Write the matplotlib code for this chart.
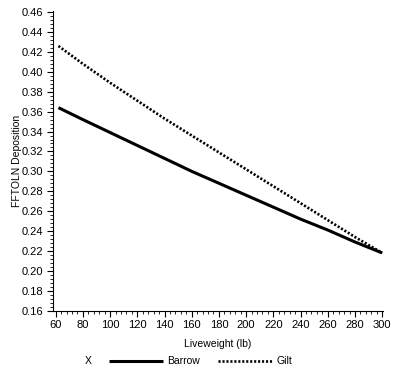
import matplotlib.pyplot as plt
from matplotlib.ticker import MultipleLocator

plt.rcParams['font.family'] = ['Liberation Sans', 'DejaVu Sans']

# Data
liveweight = [62, 80, 100, 120, 140, 160, 180, 200, 220, 240, 260, 280, 300]
barrow = [0.364, 0.352, 0.339, 0.326, 0.313, 0.300, 0.288,
          0.276, 0.264, 0.252, 0.241, 0.229, 0.218]
gilt = [0.426, 0.408, 0.389, 0.371, 0.353, 0.336, 0.319,
        0.302, 0.285, 0.268, 0.251, 0.234, 0.218]

fig = plt.figure(figsize=(3.97, 3.72), dpi=100)
ax = fig.add_axes([0.1335, 0.165, 0.8315, 0.805])

ax.plot(liveweight, barrow, color='black', lw=2.2, solid_capstyle='butt', label='Barrow')
ax.plot(liveweight, gilt, color='black', lw=1.9, linestyle=(0, (0.8, 0.7)),
        dash_capstyle='butt', label='Gilt')

ax.set_xlim(58, 300.7)
ax.set_ylim(0.16, 0.461)
ax.xaxis.set_major_locator(MultipleLocator(20))
ax.xaxis.set_minor_locator(MultipleLocator(4))
ax.yaxis.set_major_locator(MultipleLocator(0.02))
ax.yaxis.set_minor_locator(MultipleLocator(0.004))
ax.yaxis.set_major_formatter(plt.FormatStrFormatter('%.2f'))

for s in ['top', 'right']:
    ax.spines[s].set_visible(False)
for s in ['left', 'bottom']:
    ax.spines[s].set_linewidth(0.8)
ax.tick_params(which='major', direction='out', length=4, width=0.8, labelsize=8, pad=3)
ax.tick_params(which='minor', direction='out', length=2, width=0.6)

ax.set_xlabel('Liveweight (lb)', fontsize=7.5, labelpad=6)
ax.set_ylabel('FFTOLN Deposition', fontsize=7.5)
ax.yaxis.set_label_coords(-0.095, 0.5)

fig.text(0.222, 0.029, 'X', fontsize=7.5, ha='center', va='center')
fig.legend(loc='center left', bbox_to_anchor=(0.275, 0.029), ncol=2, frameon=False,
           fontsize=7.5, handlelength=5.2, handletextpad=0.4, columnspacing=1.7,
           borderpad=0, borderaxespad=0)

fig.savefig('out.png', dpi=100)
